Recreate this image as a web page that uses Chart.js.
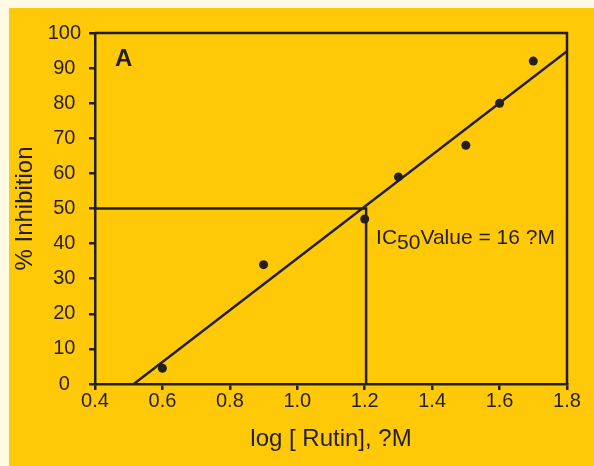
<!DOCTYPE html>
<html>
<head>
<meta charset="utf-8">
<script src="https://cdn.jsdelivr.net/npm/chart.js@4.4.0/dist/chart.umd.min.js"></script>
<style>
  html, body { margin: 0; padding: 0; background: #fffae3; }
  canvas { display: block; }
</style>
</head>
<body>
<canvas id="chart" width="594" height="466"></canvas>
<script>
(() => {
  // measured inhibition vs log concentration
  const logConc = [0.6, 0.9, 1.2, 1.3, 1.5, 1.6, 1.7];
  const inhibition = [4.5, 34, 47, 59, 68, 80, 92];

  // fitted line end points
  const fitX = [0.515, 1.8];
  const fitY = [0, 94.8];

  const ic50Value = 16; // µM
  const ic50Log = Math.log10(ic50Value);

  const INK = '#231f20';
  const YELLOW = '#ffc907';
  const CREAM = '#fffae3';
  const FONT = "'Liberation Sans', Arial, sans-serif";

  const panelBg = {
    id: 'panelBg',
    beforeDraw(chart) {
      const ctx = chart.ctx;
      ctx.save();
      ctx.fillStyle = CREAM;
      ctx.fillRect(0, 0, chart.width, chart.height);
      ctx.fillStyle = YELLOW;
      ctx.fillRect(9, 8, chart.width - 9, chart.height - 8);
      ctx.restore();
    }
  };

  const frameAndLabels = {
    id: 'frameAndLabels',
    afterDraw(chart) {
      const { ctx, chartArea: a, scales: { x, y } } = chart;
      ctx.save();
      ctx.strokeStyle = INK;
      ctx.lineWidth = 2.5;
      ctx.beginPath();
      ctx.moveTo(a.left, a.top);
      ctx.lineTo(a.right, a.top);
      ctx.lineTo(a.right, a.bottom);
      ctx.stroke();

      ctx.fillStyle = INK;
      ctx.textBaseline = 'alphabetic';
      ctx.textAlign = 'left';
      ctx.font = 'bold 24px ' + FONT;
      ctx.fillText('A', a.left + 20, a.top + 33);

      // IC50 note next to the guide lines
      ctx.font = '21px ' + FONT;
      let tx = x.getPixelForValue(ic50Log) + 10;
      const ty = y.getPixelForValue(50) + 35;
      ctx.fillText('IC', tx, ty);
      tx += ctx.measureText('IC').width;
      ctx.fillText('50', tx, ty + 5);
      tx += ctx.measureText('50').width;
      ctx.fillText('Value = 16 ?M', tx, ty);
      ctx.restore();
    }
  };

  const tickFont = { family: FONT, size: 20 };

  new Chart(document.getElementById('chart').getContext('2d'), {
    type: 'scatter',
    data: {
      datasets: [
        {
          label: 'Inhibition',
          data: logConc.map((v, i) => ({ x: v, y: inhibition[i] })),
          pointRadius: 4.5,
          pointBackgroundColor: INK,
          pointBorderWidth: 0,
          order: 0
        },
        {
          label: 'Fit',
          type: 'line',
          data: fitX.map((v, i) => ({ x: v, y: fitY[i] })),
          borderColor: INK,
          borderWidth: 2.5,
          pointRadius: 0,
          fill: false,
          order: 1
        },
        {
          label: 'IC50',
          type: 'line',
          data: [
            { x: 0.4, y: 50 },
            { x: ic50Log, y: 50 },
            { x: ic50Log, y: 0 }
          ],
          borderColor: INK,
          borderWidth: 2.5,
          pointRadius: 0,
          fill: false,
          order: 2
        }
      ]
    },
    options: {
      responsive: false,
      devicePixelRatio: 1,
      animation: false,
      layout: { padding: { top: 33, right: 27, left: 0, bottom: 0 } },
      plugins: {
        legend: { display: false },
        tooltip: { enabled: false }
      },
      scales: {
        x: {
          type: 'linear',
          min: 0.4,
          max: 1.8,
          afterFit: s => { s.height = 82; },
          ticks: {
            stepSize: 0.2,
            color: INK,
            font: tickFont,
            padding: -1,
            callback: v => v.toFixed(1)
          },
          grid: {
            drawOnChartArea: false,
            drawTicks: true,
            tickLength: 6,
            color: INK,
            lineWidth: 2.5
          },
          border: { display: true, color: INK, width: 2.5 },
          title: {
            display: true,
            text: 'log [ Rutin], ?M',
            color: INK,
            font: { family: FONT, size: 24 },
            padding: { top: 0, bottom: 12 }
          }
        },
        y: {
          min: 0,
          max: 100,
          afterFit: s => { s.width = 95; },
          ticks: {
            stepSize: 10,
            color: INK,
            font: tickFont,
            padding: 8,
            crossAlign: 'center'
          },
          grid: {
            drawOnChartArea: false,
            drawTicks: true,
            tickLength: 6,
            color: INK,
            lineWidth: 2.5
          },
          border: { display: true, color: INK, width: 2.5 },
          title: {
            display: true,
            text: '% Inhibition',
            color: INK,
            font: { family: FONT, size: 24 },
            padding: { top: 11, bottom: 0 }
          }
        }
      }
    },
    plugins: [panelBg, frameAndLabels]
  });
})();
</script>
</body>
</html>
